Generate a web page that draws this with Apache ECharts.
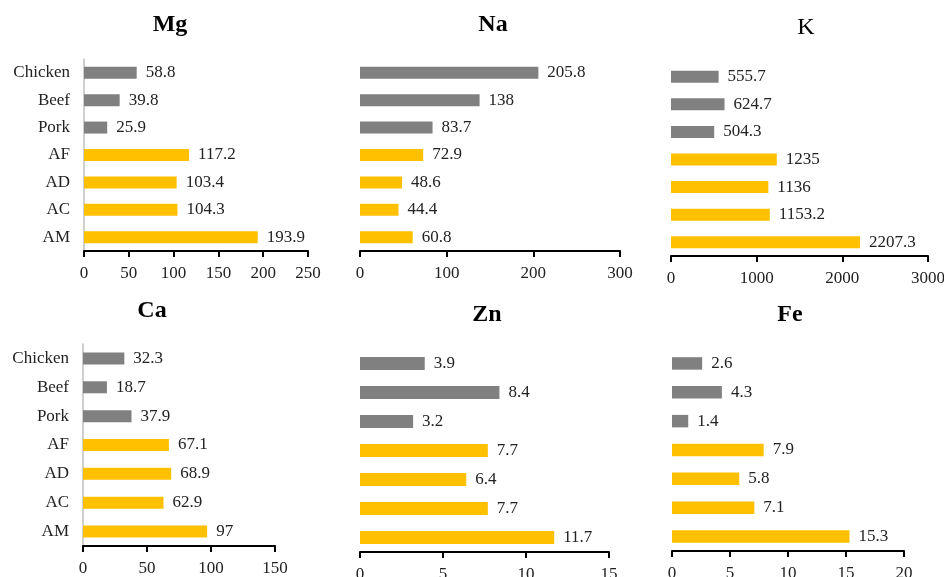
<!DOCTYPE html>
<html>
<head>
<meta charset="utf-8">
<script src="https://cdn.jsdelivr.net/npm/echarts@6/dist/echarts.min.js"></script>
<style>html,body{margin:0;padding:0;background:#fff;}#c{width:944px;height:577px;}</style>
</head>
<body>
<div id="c"></div>
<script>
const categories = ['Chicken', 'Beef', 'Pork', 'AF', 'AD', 'AC', 'AM'];
const isMeat = [true, true, true, false, false, false, false];
const mg = [58.8, 39.8, 25.9, 117.2, 103.4, 104.3, 193.9];
const na = [205.8, 138, 83.7, 72.9, 48.6, 44.4, 60.8];
const k  = [555.7, 624.7, 504.3, 1235, 1136, 1153.2, 2207.3];
const ca = [32.3, 18.7, 37.9, 67.1, 68.9, 62.9, 97];
const zn = [3.9, 8.4, 3.2, 7.7, 6.4, 7.7, 11.7];
const fe = [2.6, 4.3, 1.4, 7.9, 5.8, 7.1, 15.3];
const titles = ['Mg', 'Na', 'K', 'Ca', 'Zn', 'Fe'];
const axisMax = [250, 300, 3000, 150, 15, 20];
const axisInterval = [50, 100, 1000, 50, 5, 5];

const allData = [mg, na, k, ca, zn, fe];
const GREY = '#808080', GOLD = '#FFC000';
const FONT = 'Liberation Serif';

// layout (pixels)
const grids = [
  {left: 84,  top: 59,  width: 224, height: 192},
  {left: 360, top: 59,  width: 260, height: 192},
  {left: 671, top: 63,  width: 257, height: 193},
  {left: 83,  top: 344, width: 192, height: 202},
  {left: 360, top: 349, width: 249, height: 203},
  {left: 672, top: 349, width: 232, height: 202}
];
const titlePos = [[170, 13], [493, 13], [806, 16], [152, 299], [487, 303], [790, 303]];
const showCat = [true, false, false, true, false, false];
const barW = [12, 12, 12, 12, 13, 12.5];

const option = {
  animation: false,
  backgroundColor: '#fff',
  title: titles.map((t, i) => ({
    text: t, left: titlePos[i][0], top: titlePos[i][1], textAlign: 'center', padding: 0,
    textStyle: {fontFamily: FONT, fontSize: 24, fontWeight: t === 'K' ? 'normal' : 'bold', color: '#000'}
  })),
  grid: grids.map(g => Object.assign({containLabel: false, outerBoundsMode: 'none'}, g)),
  xAxis: allData.map((d, i) => ({
    type: 'value', gridIndex: i, min: 0, max: axisMax[i], interval: axisInterval[i],
    axisLine: {show: true, lineStyle: {color: '#000', width: 2}},
    axisTick: {show: true, length: 6, lineStyle: {color: '#000', width: 2}},
    axisLabel: {fontFamily: FONT, fontSize: 17, color: '#222', margin: 14, formatter: v => String(v)},
    splitLine: {show: false}
  })),
  yAxis: allData.map((d, i) => ({
    type: 'category', gridIndex: i, data: categories, inverse: true,
    axisLine: {show: showCat[i], lineStyle: {color: '#bfbfbf', width: 1.5}},
    axisTick: {show: false},
    axisLabel: {show: showCat[i], fontFamily: FONT, fontSize: 17, color: '#222', margin: 14}
  })),
  series: allData.map((d, i) => ({
    type: 'bar', xAxisIndex: i, yAxisIndex: i, barWidth: barW[i],
    data: d.map((v, j) => ({value: v, itemStyle: {color: isMeat[j] ? GREY : GOLD}})),
    label: {show: true, position: 'right', distance: 9, fontFamily: FONT, fontSize: 17, color: '#222'}
  }))
};
echarts.init(document.getElementById('c')).setOption(option);
</script>
</body>
</html>
